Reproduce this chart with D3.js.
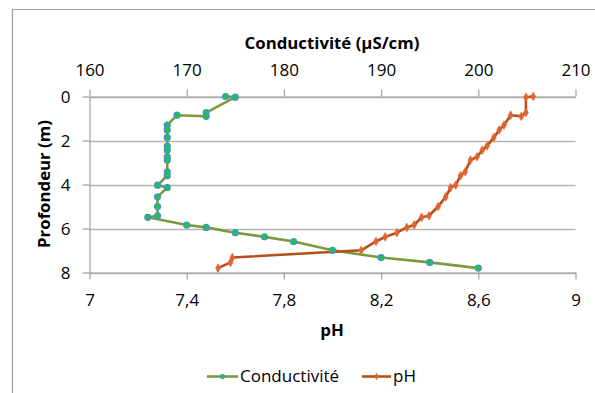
<!DOCTYPE html>
<html>
<head>
<meta charset="utf-8">
<script src="https://cdn.jsdelivr.net/npm/d3@7"></script>
<style>
  html, body { margin: 0; padding: 0; background: #fff; }
  svg { display: block; }
  text { font-family: "Open Sans", "Noto Sans", sans-serif; fill: #000; }
</style>
</head>
<body>
<svg id="chart" width="595" height="393"></svg>
<script>
// ---- data ----
const depth = [0, 0.03, 0.73, 0.9, 0.85, 1.3, 1.52, 1.86, 2.25, 2.44, 2.74, 2.89, 3.42, 3.6, 4.03, 4.14, 4.56, 5.0, 5.42, 5.49, 5.84, 5.95, 6.19, 6.38, 6.59, 6.99, 7.32, 7.54, 7.8];
const conductivity = [174, 175, 172, 172, 169, 168, 168, 168, 168, 168, 168, 168, 168, 168, 167, 168, 167, 167, 167, 166, 170, 172, 175, 178, 181, 185, 190, 195, 200];
const ph = [8.826, 8.796, 8.796, 8.777, 8.733, 8.706, 8.686, 8.664, 8.636, 8.616, 8.595, 8.568, 8.546, 8.527, 8.507, 8.486, 8.466, 8.435, 8.397, 8.367, 8.336, 8.306, 8.265, 8.217, 8.179, 8.118, 7.588, 7.58, 7.529];
const condTicks = [160, 170, 180, 190, 200, 210];
const phTicks = [7, 7.4, 7.8, 8.2, 8.6, 9];
const depthTicks = [0, 2, 4, 6, 8];
const seriesNames = ["Conductivité", "pH"];
const titles = { top: "Conductivité (µS/cm)", bottom: "pH", left: "Profondeur (m)" };

// ---- layout ----
const svg = d3.select("#chart");
const x0 = 89.5, x1 = 575.5, yTop = 96.5, yBot = 272.5;
const xPh = d3.scaleLinear().domain([7, 9]).range([x0, x1]);
const xCond = d3.scaleLinear().domain([160, 210]).range([x0, x1]);
const y = d3.scaleLinear().domain([0, 8]).range([yTop, yBot]);

const gridColor = "#b4b4b4";
const axisColor = "#a0a0a0";
const condLine = "#7a9a3c", condFill = "#1fc24a", condStroke = "#4a90d0";
const phLine = "#b5501c", phFill = "#e4622c";

// frame
svg.append("path").attr("d", "M12.5,393 V9.5 H595")
  .attr("fill", "none").attr("stroke", "#a0a0a0").attr("stroke-width", 1.2);

// gridlines
svg.append("g").selectAll("line").data(depthTicks).join("line")
  .attr("x1", x0).attr("x2", x1)
  .attr("y1", d => Math.round(y(d)) + 0.5).attr("y2", d => Math.round(y(d)) + 0.5)
  .attr("stroke", gridColor).attr("stroke-width", 1.3);

const fmtPh = d => (Number.isInteger(d) ? String(d) : d.toFixed(1)).replace(".", ",");

function styleAxis(g) {
  g.select(".domain").attr("stroke", axisColor).attr("stroke-width", 1.2);
  g.selectAll(".tick line").attr("stroke", axisColor).attr("stroke-width", 1.2);
  g.selectAll(".tick text").attr("font-size", 17).attr("fill", "#222")
    .style("font-family", '"Open Sans", sans-serif');
}

// top axis (conductivity)
const gTop = svg.append("g").attr("transform", `translate(0,${yTop})`)
  .call(d3.axisTop(xCond).tickValues(condTicks).tickSize(7).tickSizeOuter(0));
styleAxis(gTop);
gTop.selectAll(".tick text").attr("y", -26).attr("dy", "0.35em");

// bottom axis (pH)
const gBot = svg.append("g").attr("transform", `translate(0,${yBot})`)
  .call(d3.axisBottom(xPh).tickValues(phTicks).tickFormat(fmtPh).tickSize(7).tickSizeOuter(0));
styleAxis(gBot);
gBot.selectAll(".tick text").attr("y", 28).attr("dy", "0.35em");

// left axis (depth)
const gLeft = svg.append("g").attr("transform", `translate(${x0},0)`)
  .call(d3.axisLeft(y).tickValues(depthTicks).tickSize(7).tickSizeOuter(0));
styleAxis(gLeft);
gLeft.selectAll(".tick text").attr("x", -19).attr("dy", "0.35em");

// axis titles
svg.append("text").attr("x", 332).attr("y", 43).attr("dy", "0.35em")
  .attr("text-anchor", "middle").attr("font-weight", "bold").attr("font-size", 16.8)
  .text(titles.top);
svg.append("text").attr("x", 332).attr("y", 330).attr("dy", "0.35em")
  .attr("text-anchor", "middle").attr("font-weight", "bold").attr("font-size", 16.8)
  .text(titles.bottom);
svg.append("text").attr("transform", "translate(44,184) rotate(-90)").attr("dy", "0.35em")
  .attr("text-anchor", "middle").attr("font-weight", "bold").attr("font-size", 16.8)
  .text(titles.left);

// series
const rows = depth.map((d, i) => ({ depth: d, cond: conductivity[i], ph: ph[i] }));

const lineCond = d3.line().x(d => xCond(d.cond)).y(d => y(d.depth));
const linePh = d3.line().x(d => xPh(d.ph)).y(d => y(d.depth));

svg.append("path").datum(rows).attr("d", lineCond)
  .attr("fill", "none").attr("stroke", condLine).attr("stroke-width", 2.6).attr("stroke-linejoin", "round");
svg.append("path").datum(rows).attr("d", linePh)
  .attr("fill", "none").attr("stroke", phLine).attr("stroke-width", 2.6).attr("stroke-linejoin", "round");

const diamond = d3.symbol().type(d3.symbolDiamond).size(22);

svg.append("g").selectAll("path").data(rows).join("path")
  .attr("d", diamond)
  .attr("transform", d => `translate(${xPh(d.ph)},${y(d.depth)})`)
  .attr("fill", phFill).attr("stroke", "#de6a3c").attr("stroke-width", 0.6);

svg.append("g").selectAll("circle").data(rows).join("circle")
  .attr("cx", d => xCond(d.cond)).attr("cy", d => y(d.depth)).attr("r", 3)
  .attr("fill", condFill).attr("stroke", condStroke).attr("stroke-width", 1.2);

// legend
const legY = 376.5;
const leg = svg.append("g");
leg.append("line").attr("x1", 207).attr("x2", 238).attr("y1", legY).attr("y2", legY)
  .attr("stroke", condLine).attr("stroke-width", 2.6);
leg.append("circle").attr("cx", 222.5).attr("cy", legY).attr("r", 2.3)
  .attr("fill", condFill).attr("stroke", condStroke).attr("stroke-width", 0.8);
leg.append("text").attr("x", 240).attr("y", legY).attr("dy", "0.35em")
  .attr("font-size", 17).attr("fill", "#222").text(seriesNames[0]);
leg.append("line").attr("x1", 362).attr("x2", 391).attr("y1", legY).attr("y2", legY)
  .attr("stroke", phLine).attr("stroke-width", 2.6);
leg.append("path").attr("d", d3.symbol().type(d3.symbolDiamond).size(16))
  .attr("transform", `translate(376.5,${legY})`).attr("fill", phFill);
leg.append("text").attr("x", 393).attr("y", legY).attr("dy", "0.35em")
  .attr("font-size", 17).attr("fill", "#222").text(seriesNames[1]);
</script>
</body>
</html>
